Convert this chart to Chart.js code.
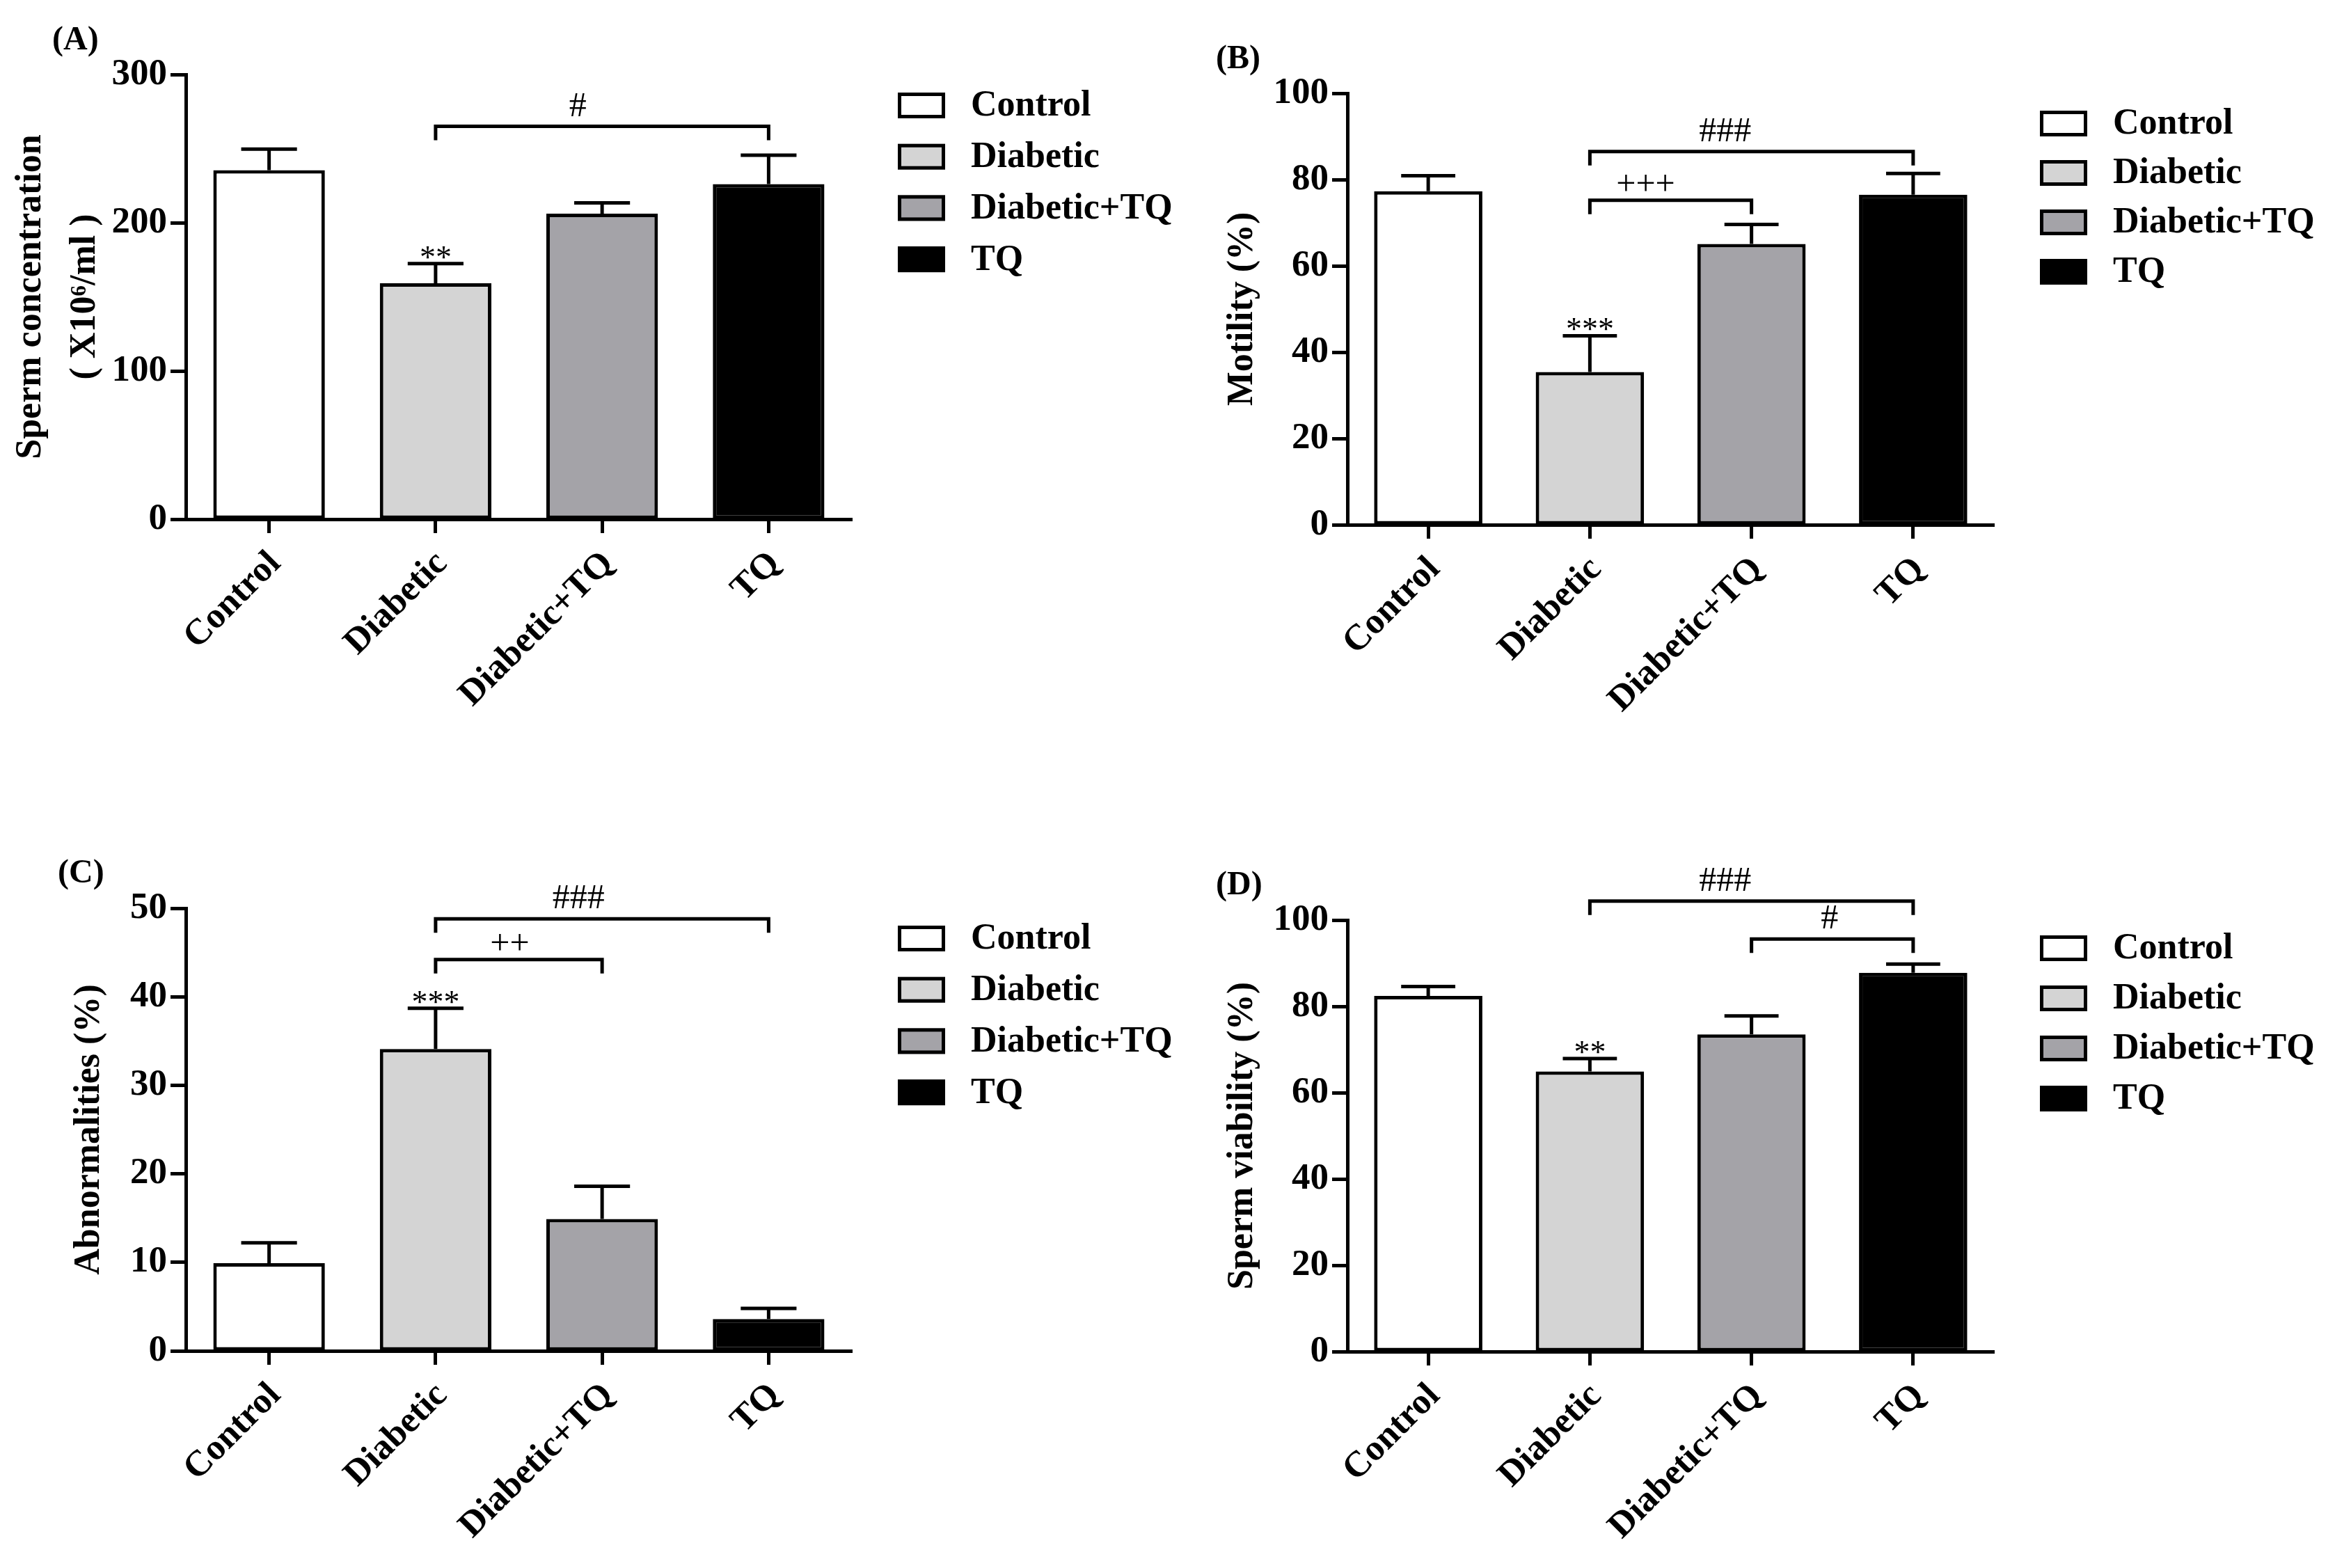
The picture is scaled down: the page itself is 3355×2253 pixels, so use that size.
<!DOCTYPE html>
<html>
<head>
<meta charset="utf-8">
<script src="https://cdn.jsdelivr.net/npm/chart.js@4.4.1/dist/chart.umd.min.js"></script>
<style>
html, body { margin: 0; padding: 0; background: #fff; }
#wrap { position: relative; width: 3355px; height: 2253px; background: #fff; overflow: hidden; }
canvas { position: absolute; }
</style>
</head>
<body>
<div id="wrap">
  <canvas id="chartA" width="1760" height="1126" style="left:0px;top:0px"></canvas>
  <canvas id="chartB" width="1678" height="1126" style="left:1677px;top:0px"></canvas>
  <canvas id="chartC" width="1760" height="1127" style="left:0px;top:1126px"></canvas>
  <canvas id="chartD" width="1678" height="1127" style="left:1677px;top:1126px"></canvas>
</div>
<script>
const groups = ['Control', 'Diabetic', 'Diabetic+TQ', 'TQ'];
const barColors = ['#ffffff', '#d4d4d4', '#a4a3a8', '#000000'];

// mean and SEM
const concMean = [235.4, 159.2, 206.1, 226.0];
const concSem = [14.2, 13.2, 7.3, 19.5];
const motilityMean = [77.3, 35.4, 65.1, 76.5];
const motilitySem = [3.6, 8.4, 4.5, 4.9];
const abnormMean = [9.9, 34.1, 14.9, 3.6];
const abnormSem = [2.3, 4.6, 3.7, 1.2];
const viabilityMean = [82.4, 64.9, 73.5, 87.8];
const viabilitySem = [2.2, 3.0, 4.3, 2.0];

// marks vs control
const concStars = ['', '**', '', ''];
const motilityStars = ['', '***', '', ''];
const abnormStars = ['', '***', '', ''];
const viabilityStars = ['', '**', '', ''];

// brackets: [from group, to group, level (axis units), label]
const concBrackets = [[1, 3, 265, '#']];
const motilityBrackets = [[1, 3, 86.5, '###'], [1, 2, 75.2, '+++']];
const abnormBrackets = [[1, 3, 48.8, '###'], [1, 2, 44.2, '++']];
const viabilityBrackets = [[1, 3, 104.4, '###'], [2, 3, 95.6, '#']];

const serif = '"Liberation Serif", "Times New Roman", serif';

const extras = {
    id: 'extras',
    afterDatasetsDraw(chart, args, opts) {
        const ctx = chart.ctx;
        const xs = chart.scales.x;
        const ys = chart.scales.y;
        const meta = chart.getDatasetMeta(0);
        ctx.save();
        ctx.strokeStyle = '#000';
        ctx.fillStyle = '#000';
        ctx.lineWidth = 5;

        // error bars (upper half only) and stars
        opts.sem.forEach((s, i) => {
            const bar = meta.data[i];
            const top = ys.getPixelForValue(opts.mean[i] + s);
            const half = bar.width / 4;
            ctx.beginPath();
            ctx.moveTo(bar.x, bar.y);
            ctx.lineTo(bar.x, top);
            ctx.moveTo(bar.x - half, top);
            ctx.lineTo(bar.x + half, top);
            ctx.stroke();
            if (opts.stars[i]) {
                ctx.font = '46px ' + serif;
                ctx.textAlign = 'center';
                ctx.textBaseline = 'alphabetic';
                ctx.fillText(opts.stars[i], bar.x, top + 6);
            }
        });

        // comparison brackets
        opts.brackets.forEach(([a, b, level, label], k) => {
            const xa = xs.getPixelForValue(a);
            const xb = xs.getPixelForValue(b);
            const yl = ys.getPixelForValue(level);
            ctx.beginPath();
            ctx.moveTo(xa, yl + 20);
            ctx.lineTo(xa, yl);
            ctx.lineTo(xb, yl);
            ctx.lineTo(xb, yl + 20);
            ctx.stroke();
            ctx.font = '50px ' + serif;
            ctx.textAlign = 'center';
            ctx.textBaseline = 'alphabetic';
            const shift = opts.labelShift[k] || 0;
            ctx.fillText(label, (xa + xb) / 2 + shift, yl - (label.includes('+') ? 8 : 15));
        });

        // legend
        const lg = opts.legend;
        groups.forEach((g, i) => {
            const cy = lg.y + i * lg.gap;
            ctx.fillStyle = barColors[i];
            ctx.fillRect(lg.x, cy - 18, 68, 37);
            ctx.strokeRect(lg.x + 2.5, cy - 15.5, 63, 32);
            ctx.fillStyle = '#000';
            ctx.font = 'bold 52px ' + serif;
            ctx.textAlign = 'left';
            ctx.textBaseline = 'middle';
            ctx.fillText(g, lg.x + 105, cy + 2);
        });

        // panel letter
        ctx.font = 'bold 48px ' + serif;
        ctx.textAlign = 'left';
        ctx.textBaseline = 'alphabetic';
        ctx.fillText(opts.letter.text, opts.letter.x, opts.letter.y);
        ctx.restore();
    }
};

function makePanel(id, p) {
    const ctx = document.getElementById(id).getContext('2d');
    return new Chart(ctx, {
        type: 'bar',
        data: {
            labels: groups,
            datasets: [{
                data: p.mean,
                backgroundColor: barColors,
                borderColor: '#000',
                borderWidth: 5,
                borderSkipped: false,
                barPercentage: 0.67,
                categoryPercentage: 1
            }]
        },
        options: {
            responsive: false,
            animation: false,
            devicePixelRatio: 1,
            layout: { padding: p.pad },
            plugins: {
                legend: { display: false },
                tooltip: { enabled: false },
                extras: {
                    mean: p.mean, sem: p.sem, stars: p.stars, brackets: p.brackets,
                    labelShift: p.labelShift, legend: p.legend, letter: p.letter
                }
            },
            scales: {
                x: {
                    grid: {
                        drawOnChartArea: false, offset: false,
                        tickLength: 20, tickWidth: 5, tickColor: '#000'
                    },
                    border: { display: true, width: 5, color: '#000' },
                    ticks: {
                        color: '#000', maxRotation: 45, minRotation: 45,
                        padding: 14, labelOffset: 9,
                        font: { family: serif, size: 52, weight: 'bold' }
                    },
                    afterFit: scale => { scale.height = 300; }
                },
                y: {
                    min: 0, max: p.max,
                    grid: {
                        drawOnChartArea: false,
                        tickLength: 22, tickWidth: 5, tickColor: '#000'
                    },
                    border: { display: true, width: 5, color: '#000' },
                    ticks: {
                        stepSize: p.step, color: '#000', padding: 5,
                        font: { family: serif, size: 53, weight: 'bold' }
                    },
                    title: {
                        display: true, text: p.title, color: '#000',
                        padding: { top: 0, bottom: 0 },
                        font: { family: serif, size: 52, weight: 'bold', lineHeight: p.titleLH }
                    },
                    afterFit: scale => { scale.width = p.yWidth; }
                }
            }
        },
        plugins: [extras]
    });
}

makePanel('chartA', {
    mean: concMean, sem: concSem, stars: concStars, brackets: concBrackets,
    max: 300, step: 100,
    title: ['Sperm concentration', '( X10\u2076/ml )'], titleLH: 1.5,
    pad: { left: 6, top: 107, right: 536, bottom: 80 }, yWidth: 261,
    labelShift: [-35],
    legend: { x: 1290, y: 151, gap: 73.7 },
    letter: { text: '(A)', x: 75, y: 71 }
});

makePanel('chartB', {
    mean: motilityMean, sem: motilitySem, stars: motilityStars, brackets: motilityBrackets,
    max: 100, step: 20,
    title: 'Motility (%)', titleLH: 1.2,
    pad: { left: 77, top: 134, right: 490, bottom: 72 }, yWidth: 182,
    labelShift: [-38, -36],
    legend: { x: 1254, y: 177, gap: 71 },
    letter: { text: '(B)', x: 70, y: 98 }
});

makePanel('chartC', {
    mean: abnormMean, sem: abnormSem, stars: abnormStars, brackets: abnormBrackets,
    max: 50, step: 10,
    title: 'Abnormalities (%)', titleLH: 1.2,
    pad: { left: 97, top: 179, right: 536, bottom: 12 }, yWidth: 170,
    labelShift: [-34, -13],
    legend: { x: 1290, y: 222, gap: 73.7 },
    letter: { text: '(C)', x: 83, y: 142 }
});

makePanel('chartD', {
    mean: viabilityMean, sem: viabilitySem, stars: viabilityStars, brackets: viabilityBrackets,
    max: 100, step: 20,
    title: 'Sperm viability (%)', titleLH: 1.2,
    pad: { left: 77, top: 196, right: 490, bottom: 11 }, yWidth: 182,
    labelShift: [-38, -4],
    legend: { x: 1254, y: 236, gap: 72 },
    letter: { text: '(D)', x: 70, y: 159 }
});
</script>
</body>
</html>
